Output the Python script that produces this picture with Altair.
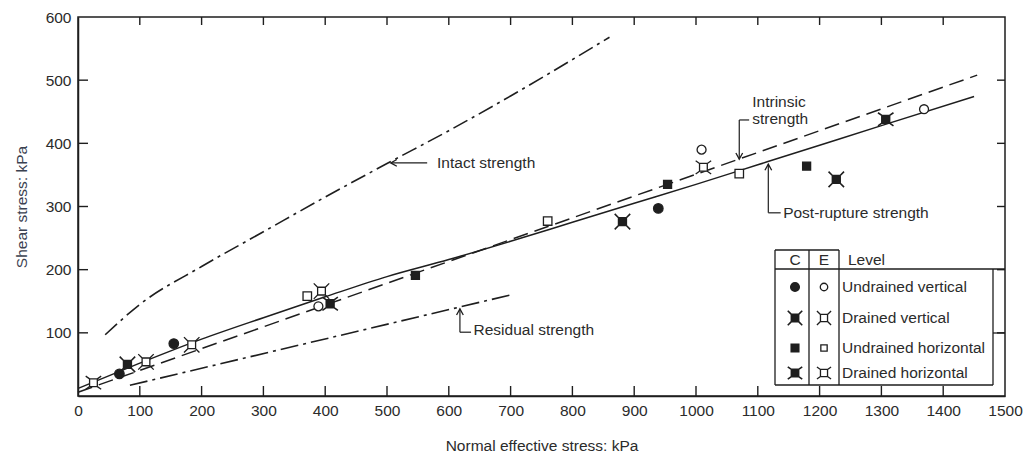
import altair as alt
import pandas as pd

# Test results: normal effective stress (kPa) and shear stress (kPa)
uv_c_sigma = [67, 155, 939]
uv_c_tau = [35, 83, 297]
uv_e_sigma = [389, 1009, 1369]
uv_e_tau = [142, 390, 454]
dv_c_sigma = [80, 881, 1227]
dv_c_tau = [50, 276, 343]
dv_e_sigma = [110, 184, 394]
dv_e_tau = [54, 81, 166]
uh_c_sigma = [546, 954, 1179]
uh_c_tau = [191, 335, 364]
uh_e_sigma = [371, 760, 1070]
uh_e_tau = [158, 277, 352]
dh_c_sigma = [408, 1307]
dh_c_tau = [146, 438]
dh_e_sigma = [25, 1012]
dh_e_tau = [21, 362]

# Strength envelopes
intact_sigma = [44, 100, 200, 300, 400, 500, 600, 700, 860]
intact_tau = [97, 145, 205, 260, 315, 368, 420, 475, 568]
post_sigma = [0, 100, 200, 300, 400, 500, 600, 700, 800, 900, 1000, 1100, 1200, 1300, 1450]
post_tau = [12, 52, 90, 124, 157, 189, 216, 245, 275, 305, 335, 366, 397, 428, 474]
intrinsic_sigma = [0, 1455]
intrinsic_tau = [6, 508]
residual_sigma = [84, 700]
residual_tau = [17, 160]

x_ticks = list(range(100, 1500, 100))
y_ticks = list(range(100, 600, 100))
x_labels = list(range(0, 1501, 100))
y_labels = list(range(100, 601, 100))

W, H = 927, 379
INK = "#1e1e1e"
TXT = "#2b2b2b"
FONT = "Liberation Sans"
FS = 15.5

xs = alt.Scale(domain=[0, 1500], nice=False, zero=False)
ys = alt.Scale(domain=[0, 600], nice=False, zero=False)

# One shared axis definition per channel, used by every layer on that scale
x_axis = alt.Axis(values=x_labels, format="d", ticks=False, grid=False, domainColor=INK,
                  domainWidth=1.5, labelFont=FONT, labelFontSize=FS, labelColor=TXT,
                  labelPadding=7, labelFlush=False, labelOverlap=False,
                  title="Normal effective stress: kPa", titleFont=FONT, titleFontSize=FS,
                  titleFontWeight="normal", titleColor=TXT, titlePadding=20)
y_axis = alt.Axis(values=y_labels, format="d", ticks=False, grid=False, domainColor=INK,
                  domainWidth=1.5, labelFont=FONT, labelFontSize=FS, labelColor=TXT,
                  labelPadding=7, labelFlush=False, labelOverlap=False,
                  title="Shear stress: kPa", titleFont=FONT, titleFontSize=FS,
                  titleFontWeight="normal", titleColor="#3a4150", titlePadding=16)


def X(f="s"):
    return alt.X(f"{f}:Q", scale=xs, axis=x_axis)


def Y(f="t"):
    return alt.Y(f"{f}:Q", scale=ys, axis=y_axis)


def frame(s, t):
    return pd.DataFrame({"s": s, "t": t})


# Marker glyphs
SQ = "M-0.5,-0.5H0.5V0.5H-0.5Z"
DV = SQ + " M-0.5,-0.5L-1,-1 M0.5,-0.5L1,-1 M0.5,0.5L1,1 M-0.5,0.5L-1,1"
DH = SQ + " M-0.5,-0.5L-1,-0.85 M0.5,-0.5L1,-0.85 M0.5,0.5L1,0.85 M-0.5,0.5L-1,0.85"
ARROW = "M-1,-0.55L0,0L-1,0.55"

post = alt.Chart(frame(post_sigma, post_tau)).mark_line(
    color=INK, strokeWidth=1.5, interpolate="monotone").encode(x=X(), y=Y())

intrinsic = alt.Chart(frame(intrinsic_sigma, intrinsic_tau)).mark_line(
    color=INK, strokeWidth=1.5, strokeDash=[15, 7]).encode(x=X(), y=Y())

intact = alt.Chart(frame(intact_sigma, intact_tau)).mark_line(
    color=INK, strokeWidth=1.6, strokeDash=[16, 5, 3, 5], interpolate="monotone").encode(x=X(), y=Y())

residual = alt.Chart(frame(residual_sigma, residual_tau)).mark_line(
    color=INK, strokeWidth=1.6, strokeDash=[18, 5, 3, 5]).encode(x=X(), y=Y())


def pts(s, t, shape, fill, size, sw=1.3):
    return alt.Chart(frame(s, t)).mark_point(
        shape=shape, filled=True, fill=fill, stroke=INK, strokeWidth=sw,
        size=size, opacity=1).encode(x=X(), y=Y())


points = [
    pts(uv_c_sigma, uv_c_tau, "circle", INK, 90),
    pts(uv_e_sigma, uv_e_tau, "circle", "white", 80),
    pts(dv_c_sigma, dv_c_tau, DV, INK, 240, 1.6),
    pts(dv_e_sigma, dv_e_tau, DV, "white", 240, 1.3),
    pts(uh_c_sigma, uh_c_tau, "square", INK, 64),
    pts(uh_e_sigma, uh_e_tau, "square", "white", 72),
    pts(dh_c_sigma, dh_c_tau, DH, INK, 240, 1.6),
    pts(dh_e_sigma, dh_e_tau, DH, "white", 240, 1.3),
]

# Callout leaders (in data units)
leaders = pd.DataFrame({
    "s": [565, 618, 618, 1070, 1070, 1117, 1117],
    "s2": [507, 618, 636, 1070, 1086, 1117, 1137],
    "t": [369, 101, 101, 437, 437, 290, 290],
    "t2": [369, 138, 101, 375, 437, 367, 290],
})
leader_rules = alt.Chart(leaders).mark_rule(color=INK, strokeWidth=1.2).encode(
    x=X(), x2="s2:Q", y=Y(), y2="t2:Q")

heads = pd.DataFrame({"s": [506, 618, 1070, 1117], "t": [369, 138, 375, 367],
                      "a": [180, 270, 90, 270]})
arrow_heads = alt.Chart(heads).mark_point(
    shape=ARROW, filled=False, stroke=INK, strokeWidth=1.3, size=150, opacity=1).encode(
    x=X(), y=Y(), angle=alt.Angle("a:Q", scale=None))

notes = pd.DataFrame({
    "s": [581, 640, 1091, 1091, 1141],
    "t": [369, 104, 465, 438, 290],
    "label": ["Intact strength", "Residual strength", "Intrinsic", "strength",
              "Post-rupture strength"],
})
note_text = alt.Chart(notes).mark_text(
    align="left", baseline="middle", font=FONT, fontSize=FS, color=TXT).encode(
    x=X(), y=Y(), text="label:N")

# Inward tick marks on all four sides
tx = pd.DataFrame({"s": x_ticks})
ty = pd.DataFrame({"t": y_ticks})
tick_bottom = alt.Chart(tx).mark_rule(color=INK, strokeWidth=1.4).encode(
    x=X(), y=alt.value(H), y2=alt.value(H - 10))
tick_top = alt.Chart(tx).mark_rule(color=INK, strokeWidth=1.4).encode(
    x=X(), y=alt.value(0), y2=alt.value(8))
tick_left = alt.Chart(ty).mark_rule(color=INK, strokeWidth=1.4).encode(
    y=Y(), x=alt.value(0), x2=alt.value(10))
tick_right = alt.Chart(ty).mark_rule(color=INK, strokeWidth=1.4).encode(
    y=Y(), x=alt.value(W), x2=alt.value(W - 8))

# Symbol key drawn as a small table in the lower right corner
one = pd.DataFrame({"k": [0]})


def seg(x1, y1, x2, y2):
    return alt.Chart(one).mark_rule(color=INK, strokeWidth=1.3).encode(
        x=alt.value(x1), x2=alt.value(x2), y=alt.value(y1), y2=alt.value(y2))


def key_sym(x, y, shape, fill, size, sw=1.3):
    return alt.Chart(one).mark_point(
        shape=shape, filled=True, fill=fill, stroke=INK, strokeWidth=sw, size=size, opacity=1).encode(
        x=alt.value(x), y=alt.value(y))


def key_txt(x, y, s, align="left"):
    return alt.Chart(one).mark_text(
        align=align, baseline="middle", font=FONT, fontSize=FS, color=TXT, text=s).encode(
        x=alt.value(x), y=alt.value(y))


KL, KC, KE, KR, KT, KH, KB = 697, 731, 761, 915, 233, 252, 368
key = [
    seg(KL, KT, KE, KT),
    seg(KL, KH, W, KH),
    seg(KL, KB, KR, KB),
    seg(KL, KT, KL, KB),
    seg(KC, KT, KC, KB),
    seg(KE, KT, KE, KB),
    seg(KR, KH, KR, KB),
    seg(KR, 316, W, 316),
    key_txt(717, 243, "C", "center"),
    key_txt(746, 243, "E", "center"),
    key_txt(770, 243, "Level"),
]
key_rows = [
    (270, "circle", "circle", 72, 56, "Undrained vertical"),
    (301, DV, DV, 210, 200, "Drained vertical"),
    (331, "square", "square", 56, 40, "Undrained horizontal"),
    (356, DH, DH, 210, 200, "Drained horizontal"),
]
for ry, c_shape, e_shape, c_size, e_size, label in key_rows:
    key.append(key_sym(717, ry, c_shape, INK, c_size, 1.6))
    key.append(key_sym(746, ry, e_shape, "white", e_size, 1.3))
    key.append(key_txt(764, ry, label))

chart = alt.layer(
    post, intrinsic, intact, residual,
    tick_bottom, tick_top, tick_left, tick_right,
    leader_rules, arrow_heads, note_text,
    *points, *key,
).properties(
    width=W, height=H,
    autosize=alt.AutoSizeParams(type="none"),
    padding={"left": 78, "top": 17, "right": 20, "bottom": 63},
    background="white",
).configure_view(stroke=INK, strokeWidth=1.5)

chart.save("out.html", embed_options={"renderer": "svg", "actions": False})
